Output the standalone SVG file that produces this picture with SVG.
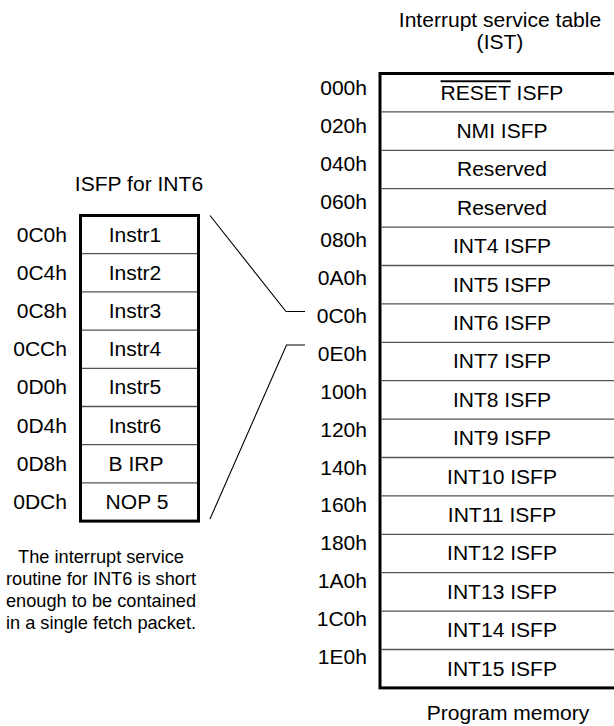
<svg xmlns="http://www.w3.org/2000/svg" width="614" height="726" viewBox="0 0 614 726">
<style>
text{font-family:"Liberation Sans",Arial,Helvetica,sans-serif;font-size:19.5px;fill:#000}
.m{text-anchor:middle}
.e{text-anchor:end}
.n{font-size:18.2px}
.outer{fill:#fff;stroke:#000;stroke-width:3}
.row{stroke:#555;stroke-width:1.3;fill:none}
.conn{stroke:#000;stroke-width:1.1;fill:none}
.ov{text-decoration:overline}
</style>
<rect width="614" height="726" fill="#fff"/>

<g id="ist-title">
<text class="m" transform="matrix(1.08 0 0 1 500 27)">Interrupt service table</text>
<text class="m" transform="matrix(1.08 0 0 1 500 49)">(IST)</text>
</g>

<g id="ist-table">
<rect class="outer" x="380" y="73.5" width="260" height="614.4"/>
<g class="row">
<line x1="381.5" y1="111.9" x2="614" y2="111.9"/>
<line x1="381.5" y1="150.3" x2="614" y2="150.3"/>
<line x1="381.5" y1="188.7" x2="614" y2="188.7"/>
<line x1="381.5" y1="227.1" x2="614" y2="227.1"/>
<line x1="381.5" y1="265.5" x2="614" y2="265.5"/>
<line x1="381.5" y1="303.9" x2="614" y2="303.9"/>
<line x1="381.5" y1="342.3" x2="614" y2="342.3"/>
<line x1="381.5" y1="380.7" x2="614" y2="380.7"/>
<line x1="381.5" y1="419.1" x2="614" y2="419.1"/>
<line x1="381.5" y1="457.5" x2="614" y2="457.5"/>
<line x1="381.5" y1="495.9" x2="614" y2="495.9"/>
<line x1="381.5" y1="534.3" x2="614" y2="534.3"/>
<line x1="381.5" y1="572.7" x2="614" y2="572.7"/>
<line x1="381.5" y1="611.1" x2="614" y2="611.1"/>
<line x1="381.5" y1="649.5" x2="614" y2="649.5"/>
</g>
<g id="ist-000"><text class="e" transform="matrix(1.08 0 0 1 367 95)">000h</text><text class="m" transform="matrix(1.08 0 0 1 502 99.5)"><tspan class="ov">RESET</tspan> ISFP</text></g>
<g id="ist-020"><text class="e" transform="matrix(1.08 0 0 1 367 132.95)">020h</text><text class="m" transform="matrix(1.08 0 0 1 502 137.9)">NMI ISFP</text></g>
<g id="ist-040"><text class="e" transform="matrix(1.08 0 0 1 367 170.9)">040h</text><text class="m" transform="matrix(1.08 0 0 1 502 176.3)">Reserved</text></g>
<g id="ist-060"><text class="e" transform="matrix(1.08 0 0 1 367 208.85)">060h</text><text class="m" transform="matrix(1.08 0 0 1 502 214.7)">Reserved</text></g>
<g id="ist-080"><text class="e" transform="matrix(1.08 0 0 1 367 246.8)">080h</text><text class="m" transform="matrix(1.08 0 0 1 502 253.1)">INT4 ISFP</text></g>
<g id="ist-0A0"><text class="e" transform="matrix(1.08 0 0 1 367 284.75)">0A0h</text><text class="m" transform="matrix(1.08 0 0 1 502 291.5)">INT5 ISFP</text></g>
<g id="ist-0C0"><text class="e" transform="matrix(1.08 0 0 1 367 322.7)">0C0h</text><text class="m" transform="matrix(1.08 0 0 1 502 329.9)">INT6 ISFP</text></g>
<g id="ist-0E0"><text class="e" transform="matrix(1.08 0 0 1 367 360.65)">0E0h</text><text class="m" transform="matrix(1.08 0 0 1 502 368.3)">INT7 ISFP</text></g>
<g id="ist-100"><text class="e" transform="matrix(1.08 0 0 1 367 398.6)">100h</text><text class="m" transform="matrix(1.08 0 0 1 502 406.7)">INT8 ISFP</text></g>
<g id="ist-120"><text class="e" transform="matrix(1.08 0 0 1 367 436.55)">120h</text><text class="m" transform="matrix(1.08 0 0 1 502 445.1)">INT9 ISFP</text></g>
<g id="ist-140"><text class="e" transform="matrix(1.08 0 0 1 367 474.5)">140h</text><text class="m" transform="matrix(1.08 0 0 1 502 483.5)">INT10 ISFP</text></g>
<g id="ist-160"><text class="e" transform="matrix(1.08 0 0 1 367 512.45)">160h</text><text class="m" transform="matrix(1.08 0 0 1 502 521.9)">INT11 ISFP</text></g>
<g id="ist-180"><text class="e" transform="matrix(1.08 0 0 1 367 550.4)">180h</text><text class="m" transform="matrix(1.08 0 0 1 502 560.3)">INT12 ISFP</text></g>
<g id="ist-1A0"><text class="e" transform="matrix(1.08 0 0 1 367 588.35)">1A0h</text><text class="m" transform="matrix(1.08 0 0 1 502 598.7)">INT13 ISFP</text></g>
<g id="ist-1C0"><text class="e" transform="matrix(1.08 0 0 1 367 626.3)">1C0h</text><text class="m" transform="matrix(1.08 0 0 1 502 637.1)">INT14 ISFP</text></g>
<g id="ist-1E0"><text class="e" transform="matrix(1.08 0 0 1 367 664.25)">1E0h</text><text class="m" transform="matrix(1.08 0 0 1 502 675.5)">INT15 ISFP</text></g>
</g>

<g id="program-memory-label">
<text class="m" transform="matrix(1.08 0 0 1 508 720)">Program memory</text>
</g>

<g id="isfp-title">
<text class="m" transform="matrix(1.08 0 0 1 139 191)">ISFP for INT6</text>
</g>

<g id="isfp-table">
<rect class="outer" x="80.5" y="215.5" width="118" height="305.6"/>
<g class="row">
<line x1="82" y1="253.7" x2="197" y2="253.7"/>
<line x1="82" y1="291.9" x2="197" y2="291.9"/>
<line x1="82" y1="330.1" x2="197" y2="330.1"/>
<line x1="82" y1="368.3" x2="197" y2="368.3"/>
<line x1="82" y1="406.5" x2="197" y2="406.5"/>
<line x1="82" y1="444.7" x2="197" y2="444.7"/>
<line x1="82" y1="482.9" x2="197" y2="482.9"/>
</g>
<g id="isfp-0C0"><text class="e" transform="matrix(1.08 0 0 1 67 241.5)">0C0h</text><text class="m" transform="matrix(1.08 0 0 1 135 241.5)">Instr1</text></g>
<g id="isfp-0C4"><text class="e" transform="matrix(1.08 0 0 1 67 279.7)">0C4h</text><text class="m" transform="matrix(1.08 0 0 1 135 279.7)">Instr2</text></g>
<g id="isfp-0C8"><text class="e" transform="matrix(1.08 0 0 1 67 317.9)">0C8h</text><text class="m" transform="matrix(1.08 0 0 1 135 317.9)">Instr3</text></g>
<g id="isfp-0CC"><text class="e" transform="matrix(1.08 0 0 1 67 356.1)">0CCh</text><text class="m" transform="matrix(1.08 0 0 1 135 356.1)">Instr4</text></g>
<g id="isfp-0D0"><text class="e" transform="matrix(1.08 0 0 1 67 394.3)">0D0h</text><text class="m" transform="matrix(1.08 0 0 1 135 394.3)">Instr5</text></g>
<g id="isfp-0D4"><text class="e" transform="matrix(1.08 0 0 1 67 432.5)">0D4h</text><text class="m" transform="matrix(1.08 0 0 1 135 432.5)">Instr6</text></g>
<g id="isfp-0D8"><text class="e" transform="matrix(1.08 0 0 1 67 470.7)">0D8h</text><text class="m" transform="matrix(1.08 0 0 1 136 470.7)">B IRP</text></g>
<g id="isfp-0DC"><text class="e" transform="matrix(1.08 0 0 1 67 508.9)">0DCh</text><text class="m" transform="matrix(1.08 0 0 1 137 508.9)">NOP 5</text></g>
</g>

<g id="note">
<text class="m n" x="101" y="563">The interrupt service</text>
<text class="m n" x="101" y="585">routine for INT6 is short</text>
<text class="m n" x="101" y="607">enough to be contained</text>
<text class="m n" x="101" y="629">in a single fetch packet.</text>
</g>

<g id="connectors">
<polyline class="conn" points="210,215.5 286,311.5 305,311.5"/>
<polyline class="conn" points="210,519 286.5,345 305,345"/>
</g>
</svg>
